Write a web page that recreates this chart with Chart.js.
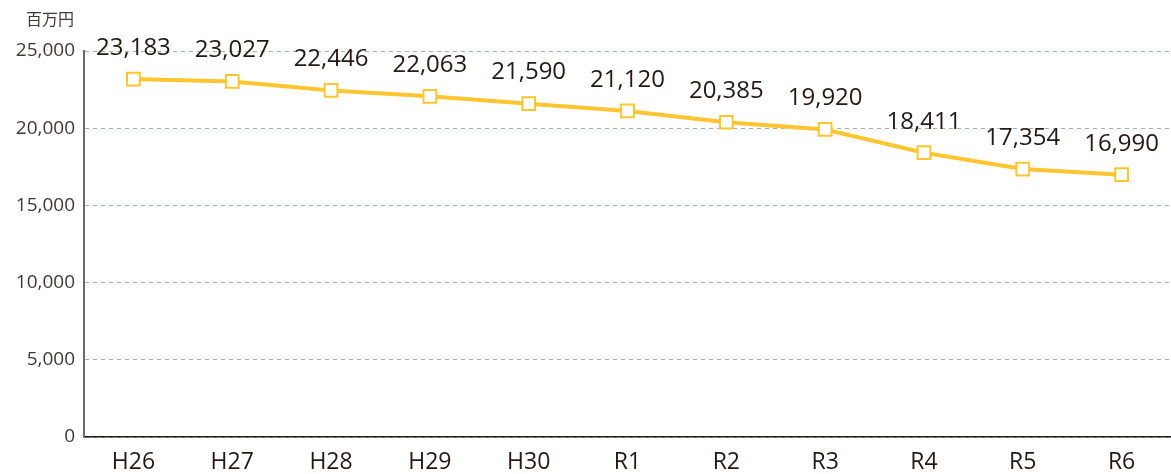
<!DOCTYPE html>
<html><head><meta charset="utf-8">
<script src="https://cdn.jsdelivr.net/npm/chart.js@4/dist/chart.umd.min.js"></script>
<style>html,body{margin:0;padding:0;background:#fff}#wrap{width:1171px;height:474px;position:relative}</style>
</head><body><div id="wrap"><canvas id="c" width="1171" height="474"></canvas></div>
<script>
const categories = ["H26","H27","H28","H29","H30","R1","R2","R3","R4","R5","R6"];
const values = [23183,23027,22446,22063,21590,21120,20385,19920,18411,17354,16990];
const yTicks = [0,5000,10000,15000,20000,25000];
const unitLabel = "百万円";
const FONT = "'Open Sans','Noto Sans CJK JP',sans-serif";

const labelPlugin = {
  id: 'labels',
  afterDatasetsDraw(chart) {
    const ctx = chart.ctx;
    const meta = chart.getDatasetMeta(0);
    ctx.save();
    ctx.fillStyle = '#231815';
    ctx.font = "24px " + FONT;
    ctx.textAlign = 'center';
    ctx.textBaseline = 'middle';
    meta.data.forEach((pt, i) => {
      ctx.fillText(values[i].toLocaleString('en-US'), pt.x, pt.y - 31);
    });
    ctx.font = "16px 'Noto Sans CJK JP',sans-serif";
    ctx.fillStyle = '#3e3a39';
    ctx.textAlign = 'right';
    ctx.fillText(unitLabel, 74, 19);
    ctx.restore();
  }
};

new Chart(document.getElementById('c'), {
  type: 'line',
  data: { labels: categories, datasets: [{
    data: values,
    borderColor: '#fdc52f',
    borderWidth: 4,
    pointStyle: 'rect',
    pointRadius: 9,
    pointBorderWidth: 2,
    pointBackgroundColor: '#ffffff',
    pointBorderColor: '#fdc52f',
    tension: 0,
    clip: false
  }]},
  options: {
    responsive: false, animation: false,
    layout: { autoPadding: false, padding: { top: 51, right: 0, bottom: 0, left: 0 } },
    plugins: { legend: { display: false }, tooltip: { enabled: false } },
    scales: {
      x: {
        offset: true,
        grid: { display: false, drawTicks: false },
        border: { color: '#231815', width: 1.5 },
        ticks: { color: '#231815', font: { size: 23, family: FONT }, padding: 12, maxRotation: 0 },
        afterFit(s) { s.height = 37; s.paddingRight = 0; s.paddingLeft = 0; }
      },
      y: {
        min: 0, max: 25000,
        afterBuildTicks(s) { s.ticks = yTicks.map(v => ({ value: v })); },
        grid: { color: '#9fb5a3', lineWidth: 1, drawTicks: false },
        border: { color: '#6f6a67', width: 2, dash: [4,4] },
        ticks: { color: '#3e3a39', font: { size: 19, family: FONT }, padding: 9,
          callback: v => v.toLocaleString('en-US') },
        afterFit(s) { s.width = 84; }
      }
    }
  },
  plugins: [labelPlugin]
});
</script></body></html>
